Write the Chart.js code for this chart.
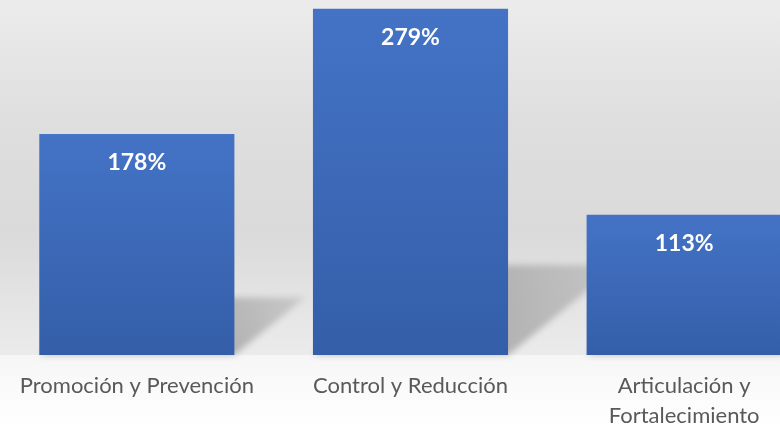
<!DOCTYPE html>
<html>
<head>
<meta charset="utf-8">
<script src="https://cdn.jsdelivr.net/npm/chart.js@4.4.1/dist/chart.umd.min.js"></script>
<style>
  html, body { margin: 0; padding: 0; overflow: hidden; background: #ffffff; }
  #wrap { position: relative; width: 821px; height: 427px; }
</style>
</head>
<body>
<div id="wrap"><canvas id="c"></canvas></div>
<script>
const categories = [
  "Promoción y Prevención",
  "Control y Reducción",
  ["Articulación y", "Fortalecimiento"]
];
const values = [178, 279, 113];
const valueLabels = ["178%", "279%", "113%"];

const backgroundPlugin = {
  id: 'bgWallFloor',
  beforeDraw(chart) {
    const { ctx, chartArea, width, height } = chart;
    const b = chartArea.bottom;
    ctx.save();
    const wall = ctx.createLinearGradient(0, 0, 0, b);
    wall.addColorStop(0, '#ececec');
    wall.addColorStop(0.35, '#dedede');
    wall.addColorStop(0.65, '#dadada');
    wall.addColorStop(1, '#ebebeb');
    ctx.fillStyle = wall;
    ctx.fillRect(0, 0, width, b);
    const floor = ctx.createLinearGradient(0, b, 0, height);
    floor.addColorStop(0, '#f6f6f6');
    floor.addColorStop(1, '#ffffff');
    ctx.fillStyle = floor;
    ctx.fillRect(0, b, width, height - b);
    ctx.restore();
  }
};

const shadowPlugin = {
  id: 'barShadows',
  beforeDatasetsDraw(chart) {
    const { ctx } = chart;
    const meta = chart.getDatasetMeta(0);
    ctx.save();
    ctx.filter = 'blur(3px)';
    meta.data.forEach(bar => {
      const p = bar.getProps(['x', 'y', 'base', 'width'], true);
      const xl = p.x - p.width / 2, xr = p.x + p.width / 2;
      const b = p.base, H = b - p.y;
      const dx = 0.32 * H, dy = 0.26 * H;
      const g = ctx.createLinearGradient(xr, b, xr + dx, b - dy);
      g.addColorStop(0, 'rgba(0,0,0,0.24)');
      g.addColorStop(1, 'rgba(0,0,0,0.11)');
      ctx.fillStyle = g;
      ctx.beginPath();
      ctx.moveTo(xl, b);
      ctx.lineTo(xr, b);
      ctx.lineTo(xr + dx, b - dy);
      ctx.lineTo(xl + dx, b - dy);
      ctx.closePath();
      ctx.fill();
    });
    ctx.restore();
  }
};

const labelPlugin = {
  id: 'valueLabels',
  afterDatasetsDraw(chart) {
    const { ctx } = chart;
    const meta = chart.getDatasetMeta(0);
    ctx.save();
    ctx.fillStyle = '#ffffff';
    ctx.font = 'bold 23px Lato';
    ctx.textAlign = 'center';
    ctx.textBaseline = 'middle';
    meta.data.forEach((bar, i) => {
      const p = bar.getProps(['x', 'y'], true);
      ctx.fillText(valueLabels[i], p.x, p.y + 29);
    });
    ctx.restore();
  }
};

function barGradient(context) {
  const chart = context.chart;
  const { ctx, chartArea, scales } = chart;
  if (!chartArea || !scales.y) return '#4170be';
  const v = context.raw;
  const top = scales.y.getPixelForValue(v);
  const bottom = scales.y.getPixelForValue(0);
  if (!isFinite(top) || !isFinite(bottom) || top === bottom) return '#4170be';
  const g = ctx.createLinearGradient(0, top, 0, bottom);
  g.addColorStop(0, '#4473c6');
  g.addColorStop(1, '#345ea8');
  return g;
}

new Chart(document.getElementById('c'), {
  type: 'bar',
  data: {
    labels: categories,
    datasets: [{
      data: values,
      backgroundColor: barGradient,
      borderWidth: 0,
      barPercentage: 0.713,
      categoryPercentage: 1.0
    }]
  },
  options: {
    responsive: true,
    maintainAspectRatio: false,
    animation: false,
    layout: { padding: 0 },
    plugins: { legend: { display: false }, tooltip: { enabled: false } },
    scales: {
      y: {
        display: false,
        min: 0,
        max: 286
      },
      x: {
        grid: { display: false, drawTicks: false },
        border: { display: false },
        ticks: {
          color: '#595959',
          font: { family: 'Lato', size: 22, lineHeight: 1.364 },
          padding: 16,
          maxRotation: 0,
          autoSkip: false
        },
        afterFit(scale) { scale.height = 72; }
      }
    }
  },
  plugins: [backgroundPlugin, shadowPlugin, labelPlugin]
});
</script>
</body>
</html>
